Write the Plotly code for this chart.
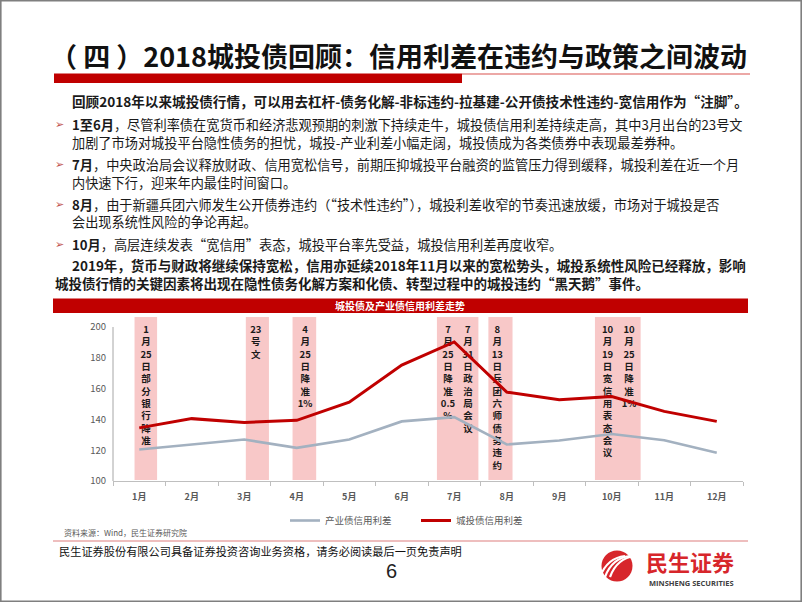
import plotly.graph_objects as go

# ---------------- data ----------------
months = ['1月', '2月', '3月', '4月', '5月', '6月', '7月', '8月', '9月', '10月', '11月', '12月']
chengtou_spread = [134.5, 140.5, 138.0, 139.4, 151.2, 175.3, 190.3, 157.7, 152.7, 154.8, 145.2, 138.7]
chanye_spread = [120.4, 123.7, 126.9, 121.5, 126.9, 138.7, 141.5, 123.7, 126.3, 130.5, 126.5, 118.3]
y_ticks = [100, 120, 140, 160, 180, 200]

# event bands (in month-index units, 0 = 1月)
band_start = [-0.09, 2.03, 2.92, 5.67, 6.65, 8.68]
band_end = [0.34, 2.47, 3.37, 6.46, 7.11, 9.55]

# event labels (vertical text) and their month-index position
event_labels = ['1月25日部分银行降准', '23号文', '4月25日降准1%', '7月25日降准0.5%',
                '7月31日政治局会议', '8月13日兵团六师债务违约', '10月19日宽信用表态会议', '10月25日降准1%']
event_pos = [0.13, 2.22, 3.16, 5.88, 6.26, 6.82, 8.92, 9.33]

FONT = 'Noto Sans CJK SC'
W, H = 802, 602
month_idx = list(range(len(months)))
Y_MIN, Y_MAX, Y_TOP = 100, 200, 206.5   # axis range extends a little above the last tick
PX_PER_UNIT = 1.54


def X(px):
    return px / W


def Y(py):
    return 1 - py / H


def vertical(label):
    toks = []
    buf = ''
    for ch in label:
        if ch.isdigit() or ch == '.':
            buf += ch
        else:
            if buf:
                toks.append(buf)
                buf = ''
            toks.append(ch)
    if buf:
        toks.append(buf)
    out = []
    i = 0
    while i < len(toks):
        t = toks[i]
        if i + 1 < len(toks) and toks[i + 1] == '%' and t == '1':
            out.append('1%')
            i += 2
            continue
        out.append(t)
        i += 1
    return '<br>'.join(out)


fig = go.Figure()

# event text (drawn below the lines)
fig.add_trace(go.Scatter(
    x=event_pos, y=[200.8] * len(event_pos),
    mode='text', text=[vertical(l) for l in event_labels],
    textposition='bottom center',
    textfont=dict(family=FONT, size=9.5, color='#1a1a1a', weight='bold'),
    cliponaxis=False, showlegend=False, hoverinfo='skip'))

fig.add_trace(go.Scatter(
    x=month_idx, y=chanye_spread, mode='lines', name='产业债信用利差',
    line=dict(color='#A3B1C0', width=2.6), cliponaxis=False))
fig.add_trace(go.Scatter(
    x=month_idx, y=chengtou_spread, mode='lines', name='城投债信用利差',
    line=dict(color='#C00000', width=3), cliponaxis=False))

shapes = []
for x0, x1 in zip(band_start, band_end):
    shapes.append(dict(type='rect', xref='x', yref='paper', x0=x0, x1=x1,
                       y0=Y(480), y1=Y(317), fillcolor='#F8C8C8', line=dict(width=0), layer='below'))
# y axis line (100 -> 200)
shapes.append(dict(type='line', xref='paper', yref='y', x0=X(113), x1=X(113), y0=Y_MIN, y1=Y_MAX,
                   line=dict(color='#A6A6A6', width=1)))

# title underline
shapes.append(dict(type='line', xref='paper', yref='paper', x0=X(462), x1=X(750), y0=Y(74), y1=Y(74),
                   line=dict(color='#D9534F', width=1.2)))
shapes.append(dict(type='rect', xref='paper', yref='paper', x0=X(54), x1=X(462), y0=Y(83), y1=Y(73.5),
                   fillcolor='#C00000', line=dict(width=0)))
# chart title bar
shapes.append(dict(type='rect', xref='paper', yref='paper', x0=X(53), x1=X(748), y0=Y(313), y1=Y(298.5),
                   fillcolor='#C00000', line=dict(width=0)))
# footer line
shapes.append(dict(type='line', xref='paper', yref='paper', x0=X(53), x1=X(748), y0=Y(541), y1=Y(541),
                   line=dict(color='#E8A8A8', width=1.5)))
# slide frame
shapes.append(dict(type='rect', xref='paper', yref='paper', x0=X(0.8), x1=X(801.2), y0=Y(601.2), y1=Y(0.8),
                   line=dict(color='#7F7F7F', width=1.6), fillcolor='rgba(0,0,0,0)'))
# logo circle
cx, cy, r = 617, 566, 15.5
shapes.append(dict(type='circle', xref='paper', yref='paper', x0=X(cx - r), x1=X(cx + r), y0=Y(cy + r), y1=Y(cy - r),
                   fillcolor='#D7262B', line=dict(width=0)))


def P(x, y):
    return f'{X(x):.5f},{Y(y):.5f}'


for dx in (-5, 0, 5):
    path = f'M {P(605 + dx, 577)} Q {P(612 + dx, 558)} {P(630 + dx, 556)}'
    shapes.append(dict(type='path', xref='paper', yref='paper', path=path,
                       line=dict(color='white', width=2.2)))

ann = []


def text(x, y, s, size=13.2, color='#1a1a1a', anchor='left', bold=False, family=FONT):
    ann.append(dict(x=X(x), y=Y(y), xref='paper', yref='paper', text=(f'<b>{s}</b>' if bold else s),
                    showarrow=False, xanchor=anchor, yanchor='middle',
                    font=dict(family=family, size=size, color=color)))


text(398, 56, '（ 四 ）2018城投债回顾：信用利差在违约与政策之间波动', size=27, color='#111111', anchor='center', bold=True)

text(70, 101, '回顾2018年以来城投债行情，可以用去杠杆-债务化解-非标违约-拉基建-公开债技术性违约-宽信用作为“注脚”。', size=13.6, bold=True)
text(70, 124, '<b>1至6月</b>，尽管利率债在宽货币和经济悲观预期的刺激下持续走牛，城投债信用利差持续走高，其中3月出台的23号文')
text(70, 142, '加剧了市场对城投平台隐性债务的担忧，城投-产业利差小幅走阔，城投债成为各类债券中表现最差券种。')
text(70, 164, '<b>7月</b>，中央政治局会议释放财政、信用宽松信号，前期压抑城投平台融资的监管压力得到缓释，城投利差在近一个月')
text(70, 182, '内快速下行，迎来年内最佳时间窗口。')
text(70, 204, '<b>8月</b>，由于新疆兵团六师发生公开债券违约（“技术性违约”），城投利差收窄的节奏迅速放缓，市场对于城投是否')
text(70, 222, '会出现系统性风险的争论再起。')
text(70, 244, '<b>10月</b>，高层连续发表“宽信用”表态，城投平台率先受益，城投信用利差再度收窄。')
text(70, 265, '2019年，货币与财政将继续保持宽松，信用亦延续2018年11月以来的宽松势头，城投系统性风险已经释放，影响', size=13.5, bold=True)
text(53, 283, '城投债行情的关键因素将出现在隐性债务化解方案和化债、转型过程中的城投违约“黑天鹅”事件。', size=13.5, bold=True)
for by in (124, 164, 204, 244):
    text(59, by, '➢', size=11, color='#C0504D', anchor='center', family='DejaVu Sans')

text(400, 305.5, '城投债及产业债信用利差走势', size=10, color='white', anchor='center', bold=True)
text(62, 532, '资料来源：Wind，民生证券研究院', size=8, color='#595959')
text(57, 551, '民生证券股份有限公司具备证券投资咨询业务资格，请务必阅读最后一页免责声明', size=11.2, color='#111111')
text(391, 571, '6', size=20, color='#222222', anchor='center', family='Liberation Sans Narrow, Liberation Sans')
text(644, 560.5, '民生证券', size=22, color='#D7262B', bold=True)
text(647, 582.5, 'MINSHENG SECURITIES', size=7.5, color='#404040', bold=True, family='Open Sans')

plot_top_px = 481 - (Y_TOP - Y_MIN) * PX_PER_UNIT

fig.update_layout(
    width=W, height=H, margin=dict(l=0, r=0, t=0, b=0),
    paper_bgcolor='white', plot_bgcolor='rgba(0,0,0,0)',
    font=dict(family=FONT, color='#595959'),
    shapes=shapes, annotations=ann,
    xaxis=dict(domain=[X(113), X(743)], range=[-0.5, len(months) - 0.5],
               tickvals=month_idx, ticktext=months, ticks='',
               minor=dict(tickvals=[i - 0.5 for i in range(len(months) + 1)], ticks='outside',
                          ticklen=4, tickcolor='#BFBFBF', showgrid=False),
               showline=True, linecolor='#BFBFBF', linewidth=1,
               ticklabelstandoff=7,
               tickfont=dict(family=FONT, size=9, color='#595959', weight='bold'),
               showgrid=False, zeroline=False, automargin=False),
    yaxis=dict(domain=[Y(481), Y(plot_top_px)], range=[Y_MIN, Y_TOP], tickvals=y_ticks,
               showline=False, ticks='',
               ticklabelstandoff=6,
               tickfont=dict(family=FONT, size=9.5, color='#595959'),
               showgrid=False, zeroline=False, automargin=False),
    legend=dict(orientation='h', x=X(285), y=Y(506), xanchor='left', yanchor='top',
                font=dict(family=FONT, size=9.5, color='#595959'),
                entrywidth=86, entrywidthmode='pixels', bgcolor='rgba(0,0,0,0)'),
    showlegend=True,
)

fig.write_html('out.html')
